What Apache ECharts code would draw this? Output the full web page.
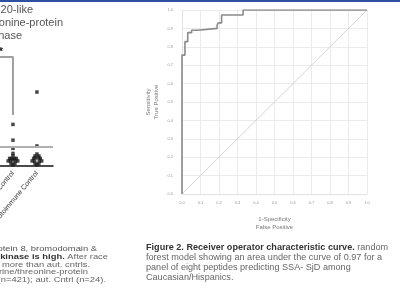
<!DOCTYPE html>
<html><head><meta charset="utf-8">
<script src="https://cdn.jsdelivr.net/npm/echarts@6/dist/echarts.min.js"></script>
<style>html,body{margin:0;padding:0;background:#fff}#c{width:400px;height:300px}</style>
</head><body><div id="c"></div>
<script>
// ROC curve (false positive rate, true positive rate) vertices
const fpr = [0, 0, 0.016, 0.031, 0.052, 0.086, 0.19, 0.196, 0.214, 0.33, 1];
const tpr = [0, 0.755, 0.828, 0.877, 0.89, 0.90, 0.918, 0.93, 0.973, 1.0, 1.0];
const chanceX = [0, 1];
const chanceY = [0, 1];
const rocTicks = ['0.0','0.1','0.2','0.3','0.4','0.5','0.6','0.7','0.8','0.9','1.0'];

// partially visible left panel (dot plot)
const groupNames = ['SSA- SjD', 'Healthy Control', 'Autoimmune Control'];
const g1X = [1, 1, 1, 1, 1, 1, 0.86, 0.93, 1.07, 1.14, 0.8, 0.9, 1.1, 1.2, 0.92, 1.08, 1];
const g1Y = [33, 20.5, 14, 10, 8, 5, 6, 6, 6, 6, 4, 4, 4, 4, 2, 2, 1];
const g2X = [2, 2, 2, 1.92, 2.08, 1.86, 1.93, 2.07, 2.14, 1.8, 1.9, 2.1, 2.2, 1.92, 2.08, 2];
const g2Y = [58.7, 15.9, 9.5, 8, 8, 6, 6.5, 6.5, 6, 4, 4, 4, 4, 2, 2, 1];
const bracketX = [0, 1, 1];
const bracketY = [86.5, 86.5, 40.5];
const refLevel = 15.1;

const chart = echarts.init(document.getElementById('c'), null, {renderer: 'canvas'});
const F = 'Liberation Sans, Arial, sans-serif';
const SY = 0.82;

chart.setOption({
  animation: false,
  backgroundColor: '#fff',
  grid: [
    {left: 182, right: 33, top: 10, bottom: 106, outerBoundsMode: 'none', containLabel: false},
    {left: -11, width: 64, top: 40, bottom: 134, outerBoundsMode: 'none', containLabel: false}
  ],
  xAxis: [
    {gridIndex: 0, type: 'value', min: 0, max: 1, interval: 0.1,
     name: '1-Specificity\nFalse Positive', nameLocation: 'middle', nameGap: 21,
     nameTextStyle: {fontSize: 6, color: '#777', fontFamily: F, lineHeight: 8},
     axisLine: {show: true, lineStyle: {color: '#e2e2e2'}},
     axisTick: {show: false},
     axisLabel: {fontSize: 4, color: '#999', margin: 7, fontFamily: F,
       formatter: (v) => rocTicks[Math.round(v * 10)]},
     splitLine: {show: true, lineStyle: {color: '#ebebeb', width: 1}}},
    {gridIndex: 1, type: 'value', min: 0, max: 2.67, interval: 1,
     axisLine: {show: true, lineStyle: {color: '#111', width: 1.5}},
     axisTick: {show: false}, splitLine: {show: false},
     axisLabel: {fontSize: 7, color: '#333', rotate: 50, margin: 6, fontFamily: F,
       formatter: (v) => (v === 1 || v === 2) ? groupNames[v] : ''}}
  ],
  yAxis: [
    {gridIndex: 0, type: 'value', min: 0, max: 1, interval: 0.1,
     name: 'Sensitivity\nTrue Positive', nameLocation: 'middle', nameGap: 22,
     nameTextStyle: {fontSize: 6, color: '#777', fontFamily: F, lineHeight: 8},
     axisLine: {show: true, lineStyle: {color: '#e2e2e2'}},
     axisTick: {show: false},
     axisLabel: {fontSize: 4, color: '#999', margin: 9, fontFamily: F,
       formatter: (v) => rocTicks[Math.round(v * 10)]},
     splitLine: {show: true, lineStyle: {color: '#ebebeb', width: 1}}},
    {gridIndex: 1, type: 'value', min: 0, max: 100, show: false}
  ],
  series: [
    {type: 'line', xAxisIndex: 0, yAxisIndex: 0, symbol: 'none',
     data: chanceX.map((x, i) => [x, chanceY[i]]),
     lineStyle: {color: '#d4d4d4', width: 1}},
    {type: 'line', xAxisIndex: 0, yAxisIndex: 0, symbol: 'none', step: 'end',
     data: fpr.map((x, i) => [x, tpr[i]]),
     lineStyle: {color: '#8a8a8a', width: 1.6}},
    {type: 'line', xAxisIndex: 1, yAxisIndex: 1, symbol: 'none',
     data: bracketX.map((x, i) => [x, bracketY[i]]),
     lineStyle: {color: '#a0a0a0', width: 2},
     markLine: {silent: true, symbol: 'none', label: {show: false},
       lineStyle: {color: '#b0b0b0', width: 2, type: 'solid'},
       data: [{yAxis: refLevel}]}},
    {type: 'scatter', xAxisIndex: 1, yAxisIndex: 1, symbol: 'rect', symbolSize: 3.5,
     itemStyle: {color: '#1a1a1a'}, data: g1X.map((x, i) => [x, g1Y[i]])},
    {type: 'scatter', xAxisIndex: 1, yAxisIndex: 1, symbol: 'rect', symbolSize: 3.5,
     itemStyle: {color: '#1a1a1a'}, data: g2X.map((x, i) => [x, g2Y[i]])}
  ],
  graphic: [
    {type: 'rect', left: 0, top: 0, shape: {width: 400, height: 2}, style: {fill: '#2f4fa2'}},
    {type: 'text', x: 1, y: 52, style: {text: '*', font: 'bold 10px ' + F, fill: '#111', textAlign: 'center', textVerticalAlign: 'middle'}},
    {type: 'text', x: 33, y: 10, style: {text: 'CDC20-like', font: '11px ' + F, fill: '#555', textAlign: 'right', textVerticalAlign: 'middle'}},
    {type: 'text', x: 63, y: 23, style: {text: 'serine/threonine-protein', font: '11px ' + F, fill: '#555', textAlign: 'right', textVerticalAlign: 'middle'}},
    {type: 'text', x: 22, y: 36, style: {text: 'kinase', font: '11px ' + F, fill: '#555', textAlign: 'right', textVerticalAlign: 'middle'}},
    {type: 'text', x: 97, y: 249, scaleY: SY, style: {text: 'protein 8, bromodomain &', font: '9.4px ' + F, fill: '#555', textAlign: 'right', textVerticalAlign: 'middle'}},
    {type: 'text', x: 108, y: 256.8, scaleY: SY, style: {text: '{b|kinase is high.}{n| After race}', textAlign: 'right', textVerticalAlign: 'middle',
      rich: {b: {font: 'bold 9.4px ' + F, fill: '#333'}, n: {font: '9.4px ' + F, fill: '#666'}}}},
    {type: 'text', x: 90, y: 264.5, scaleY: SY, style: {text: 'was 8 more than aut. cntrls.', font: '9.4px ' + F, fill: '#666', textAlign: 'right', textVerticalAlign: 'middle'}},
    {type: 'text', x: 88, y: 272.2, scaleY: SY, style: {text: 'serine/threonine-protein', font: '9.4px ' + F, fill: '#666', textAlign: 'right', textVerticalAlign: 'middle'}},
    {type: 'text', x: 106, y: 280, scaleY: SY, style: {text: 'SjD (n=421); aut. Cntrl (n=24).', font: '9.4px ' + F, fill: '#666', textAlign: 'right', textVerticalAlign: 'middle'}},
    {type: 'text', x: 146, y: 242, style: {
      text: '{b|Figure 2. Receiver operator characteristic curve.}{n| random}\n{n|forest model showing an area under the curve of 0.97 for a}\n{n|panel of eight peptides predicting SSA- SjD among}\n{n|Caucasian/Hispanics.}',
      rich: {b: {font: 'bold 9.1px ' + F, fill: '#333', lineHeight: 10}, n: {font: '9.1px ' + F, fill: '#666', lineHeight: 10}}}}
  ]
});
</script></body></html>
